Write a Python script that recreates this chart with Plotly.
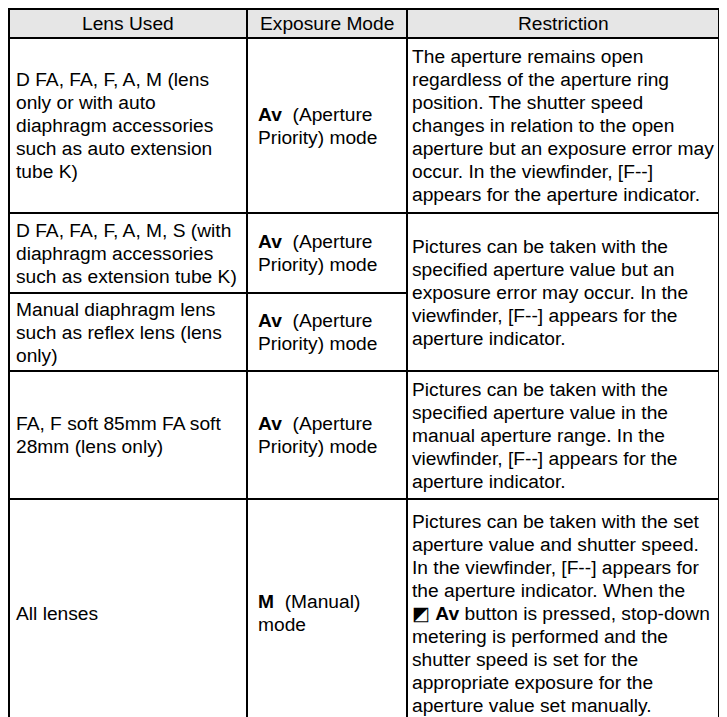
import plotly.graph_objects as go

# ---------------- data (table content) ----------------
header = ["Lens Used", "Exposure Mode", "Restriction"]

lens_used = [
    ["D FA, FA, F, A, M (lens", "only or with auto", "diaphragm accessories",
     "such as auto extension", "tube K)"],
    ["D FA, FA, F, A, M, S (with", "diaphragm accessories", "such as extension tube K)"],
    ["Manual diaphragm lens", "such as reflex lens (lens", "only)"],
    ["FA, F soft 85mm FA soft", "28mm (lens only)"],
    ["All lenses"],
]

exposure_mode = [
    ["<b>Av</b>  (Aperture", "Priority) mode"],
    ["<b>Av</b>  (Aperture", "Priority) mode"],
    ["<b>Av</b>  (Aperture", "Priority) mode"],
    ["<b>Av</b>  (Aperture", "Priority) mode"],
    ["<b>M</b>  (Manual)", "mode"],
]

restriction = [
    ["The aperture remains open", "regardless of the aperture ring",
     "position. The shutter speed", "changes in relation to the open",
     "aperture but an exposure error may", "occur. In the viewfinder, [F--]",
     "appears for the aperture indicator."],
    ["Pictures can be taken with the", "specified aperture value but an",
     "exposure error may occur. In the", "viewfinder, [F--] appears for the",
     "aperture indicator."],
    ["Pictures can be taken with the", "specified aperture value in the",
     "manual aperture range. In the", "viewfinder, [F--] appears for the",
     "aperture indicator."],
    ["Pictures can be taken with the set", "aperture value and shutter speed.",
     "In the viewfinder, [F--] appears for", "the aperture indicator. When the",
     "◩ <b>Av</b> button is pressed, stop-down", "metering is performed and the",
     "shutter speed is set for the", "appropriate exposure for the",
     "aperture value set manually."],
]
# which body rows each restriction cell spans (first, last)
restriction_span = [(0, 0), (1, 2), (3, 3), (4, 4)]

# ---------------- layout geometry ----------------
# the page body has an 8px margin, so the figure covers page pixels 8..727 / 8..717;
# axis ranges are chosen so that data units equal page pixels.
PAGE_W, PAGE_H = 727, 717
BODY_MARGIN = 8
col_edges = [9, 247, 407, 719]
col_pad = [5, 9, 3]
header_top, header_bottom = 9, 38
row_edges = [38, 213, 293, 371, 499, 727]
line_h = 23.0
font_size = 19.2
font_family = "Liberation Sans, Arial, Helvetica, sans-serif"
line_w = 2
header_fill = "#e6e6e6"
text_color = "#000000"

fig = go.Figure()
fig.add_trace(go.Scatter(x=[100], y=[100], mode="markers",
                         marker=dict(opacity=0), hoverinfo="skip", showlegend=False))

shapes = []
# header background
shapes.append(dict(type="rect", xref="x", yref="y", x0=col_edges[0], x1=col_edges[-1],
                   y0=header_top, y1=header_bottom, fillcolor=header_fill,
                   line=dict(width=0), layer="below"))

def hline(y, x0, x1):
    shapes.append(dict(type="line", xref="x", yref="y", x0=x0, x1=x1, y0=y, y1=y,
                       line=dict(color="black", width=line_w)))

def vline(x, y0, y1):
    shapes.append(dict(type="line", xref="x", yref="y", x0=x, x1=x, y0=y0, y1=y1,
                       line=dict(color="black", width=line_w)))

hline(header_top, col_edges[0] - 1, col_edges[-1] + 1)
hline(header_bottom, col_edges[0] - 1, col_edges[-1] + 1)
for i in range(1, len(row_edges)):
    hline(row_edges[i], col_edges[0] - 1, col_edges[2])
for first, last in restriction_span:
    hline(row_edges[last + 1], col_edges[2], col_edges[3] + 1)
for x in col_edges:
    vline(x, header_top - 1, row_edges[-1])

annotations = []

def add_cell(lines, x, yc, anchor="left"):
    n = len(lines)
    for k, txt in enumerate(lines):
        y = yc + (k - (n - 1) / 2.0) * line_h
        annotations.append(dict(x=x, y=y, xref="x", yref="y", text=txt,
                                showarrow=False, xanchor=anchor, yanchor="middle",
                                font=dict(family=font_family, size=font_size,
                                          color=text_color)))

# header
for j, h in enumerate(header):
    add_cell([h], (col_edges[j] + col_edges[j + 1]) / 2.0,
             (header_top + header_bottom) / 2.0, anchor="center")

# body
for r in range(len(lens_used)):
    yc = (row_edges[r] + row_edges[r + 1]) / 2.0
    add_cell(lens_used[r], col_edges[0] + col_pad[0], yc)
    add_cell(exposure_mode[r], col_edges[1] + col_pad[1], yc)
for lines, (first, last) in zip(restriction, restriction_span):
    yc = (row_edges[first] + row_edges[last + 1]) / 2.0
    add_cell(lines, col_edges[2] + col_pad[2], yc)

fig.update_layout(
    width=PAGE_W - BODY_MARGIN, height=PAGE_H - BODY_MARGIN,
    margin=dict(l=0, r=0, t=0, b=0),
    paper_bgcolor="white", plot_bgcolor="white",
    xaxis=dict(range=[BODY_MARGIN, PAGE_W], visible=False, fixedrange=True),
    yaxis=dict(range=[PAGE_H, BODY_MARGIN], visible=False, fixedrange=True),
    shapes=shapes, annotations=annotations,
    showlegend=False,
)

fig.write_html("out.html")
